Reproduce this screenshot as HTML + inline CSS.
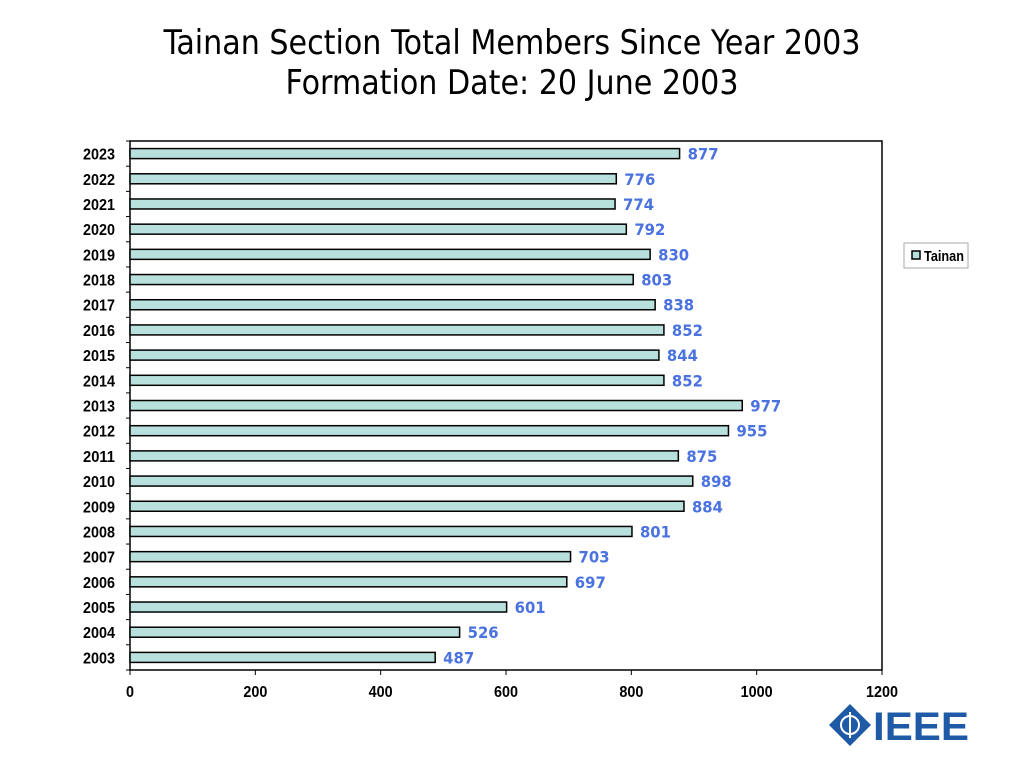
<!DOCTYPE html>
<html><head><meta charset="utf-8"><style>
body{margin:0;background:#fff;width:1024px;height:768px;overflow:hidden;font-family:"Liberation Sans",sans-serif}
.t{position:absolute;left:0;width:1024px;text-align:center;font-family:"DejaVu Sans Condensed","DejaVu Sans",sans-serif;font-stretch:condensed;font-size:33.5px;color:#000;line-height:40px}
</style></head><body>
<div class="t" style="top:23px">Tainan Section Total Members Since Year 2003</div>
<div class="t" style="top:63px">Formation Date: 20 June 2003</div>
<svg id="c" width="1024" height="768" style="position:absolute;left:0;top:0"></svg>
<script>
const years=["2023","2022","2021","2020","2019","2018","2017","2016","2015","2014","2013","2012","2011","2010","2009","2008","2007","2006","2005","2004","2003"];
const values=[877,776,774,792,830,803,838,852,844,852,977,955,875,898,884,801,703,697,601,526,487];
const xTicks=[0,200,400,600,800,1000,1200];
const L=130,R=882,T=141,B=670,MAX=1200;
const x=v=>L+(v/MAX)*(R-L);
const band=(B-T)/years.length;
const y=i=>T+band*(i+0.5);
const svg=document.getElementById('c');
const NS='http://www.w3.org/2000/svg';
function mk(tag,a){const e=document.createElementNS(NS,tag);for(const k in a)e.setAttribute(k,a[k]);svg.appendChild(e);return e;}
let e=mk('rect',{x:L,y:T,width:R-L,height:B-T,fill:'#fff',stroke:'#000','stroke-width':1.5});


for(let i=0;i<=years.length;i++){
 const ty=T+band*i;
 e=mk('line',{x1:L-4,x2:L,y1:ty,y2:ty,stroke:'#000'});
 
 
}
xTicks.forEach(v=>{
 e=mk('line',{x1:x(v),x2:x(v),y1:B,y2:B+5,stroke:'#000'});
 
 
 const s=String(v);
 e=mk('text',{x:x(v),y:B+27,'text-anchor':'middle','font-size':16,'font-weight':'bold',textLength:s.length*8,lengthAdjust:'spacingAndGlyphs','font-family':'Liberation Sans, sans-serif'});
 e.textContent=s;
 
 
});
years.forEach((yr,i)=>{
 const cy=y(i);
 e=mk('text',{x:115,y:cy+6,'text-anchor':'end','font-size':16,'font-weight':'bold',textLength:32,lengthAdjust:'spacingAndGlyphs','font-family':'Liberation Sans, sans-serif'});
 e.textContent=yr;
 
 
 e=mk('rect',{x:L,y:cy-5,width:x(values[i])-L,height:10,fill:'#b8e0dc',stroke:'#000','stroke-width':1.5});
 
 
 e=mk('text',{x:x(values[i])+8,y:cy+6,'font-size':16,'font-weight':'bold',fill:'#4a72e0',textLength:31,lengthAdjust:'spacingAndGlyphs','font-family':'DejaVu Sans, sans-serif'});
 e.textContent=values[i];
 
 
});
e=mk('rect',{x:904,y:243,width:64,height:25,fill:'#fff',stroke:'#aaa'});


e=mk('rect',{x:912,y:251,width:8,height:8,fill:'#b8e0dc',stroke:'#000','stroke-width':1.5});


e=mk('text',{x:924,y:261,'font-size':15,'font-weight':'bold',textLength:40,lengthAdjust:'spacingAndGlyphs','font-family':'Liberation Sans, sans-serif'});
e.textContent='Tainan';


</script>
<svg width="150" height="50" style="position:absolute;left:826px;top:702px">
<polygon points="24,2 45,23 24,44 3,23" fill="#1f5aa6"/>
<circle cx="24" cy="23" r="9" fill="none" stroke="#fff" stroke-width="2"/>
<line x1="24" y1="10" x2="24" y2="36" stroke="#fff" stroke-width="2"/>
<text x="47" y="38" font-size="40" font-weight="bold" fill="#1f5aa6" font-family="Liberation Sans, sans-serif" textLength="96" lengthAdjust="spacingAndGlyphs">IEEE</text>
</svg>
</body></html>
